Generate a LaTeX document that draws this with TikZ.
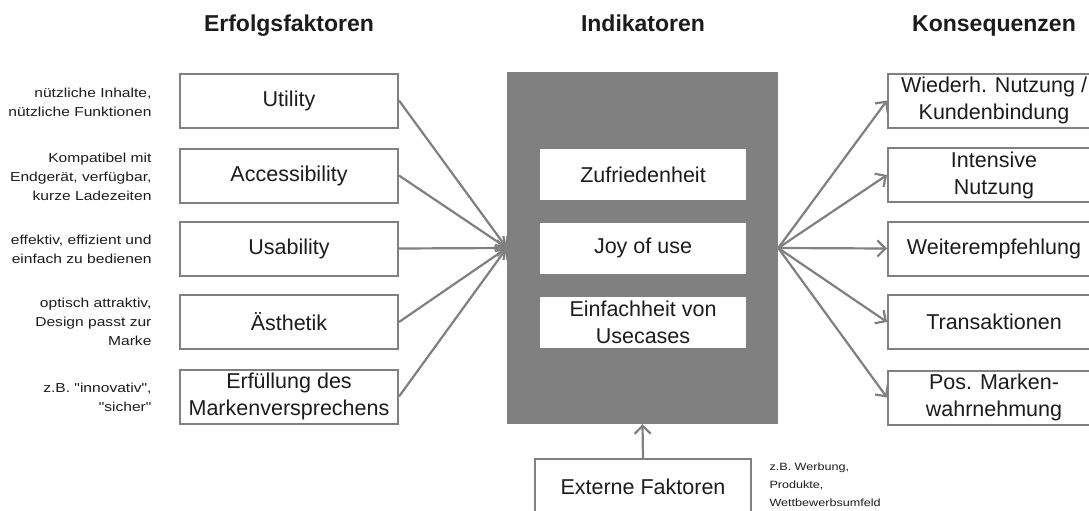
\documentclass[tikz,border=0pt]{standalone}
\usepackage{fontspec}
\setmainfont{Liberation Sans}
\newfontfamily\notefont[FakeStretch=1.2]{Liberation Sans}
\usetikzlibrary{arrows.meta}
\definecolor{linegray}{RGB}{128,128,128}
\definecolor{txt}{RGB}{28,28,28}
\begin{document}
\begin{tikzpicture}[x=1pt,y=-1pt,
  box/.style={draw=linegray,line width=2pt,fill=white,minimum width=218pt,minimum height=54pt,align=center,inner sep=0pt,text=txt,font=\fontsize{21.5}{27}\selectfont},
  inbox/.style={fill=white,minimum width=206pt,minimum height=51pt,align=center,inner sep=0pt,text=txt,font=\fontsize{21.5}{27}\selectfont},
  note/.style={align=right,anchor=east,text=txt,font=\notefont\fontsize{13}{19}\selectfont},
  head/.style={anchor=base,text=txt,font=\bfseries\fontsize{23}{27}\selectfont},
  pfeil/.style={draw=linegray,line width=2.2pt,-{Straight Barb[length=8pt,width=16pt]}}]
\useasboundingbox (0,0) rectangle (1089,511);

\node[head] (h1) at (289,32) {Erfolgsfaktoren};
\node[head] (h2) at (643,32) {Indikatoren};
\node[head] (h3) at (994,32) {Konsequenzen};

\node[box] (e1) at (289,100.5) {Utility};
\node[box] (e2) at (289,175.5) {Accessibility};
\node[box] (e3) at (289,248.5) {Usability};
\node[box] (e4) at (289,322) {Ästhetik};
\node[box] (e5) at (289,396.5) {Erfüllung des\\Markenversprechens};

\node[note] (n1) at (155,102.5) {nützliche Inhalte,\\nützliche Funktionen};
\node[note] (n2) at (155,176.5) {Kompatibel mit\\Endgerät, verfügbar,\\kurze Ladezeiten};
\node[note] (n3) at (155,249) {effektiv, effizient und\\einfach zu bedienen};
\node[note] (n4) at (155,322) {optisch attraktiv,\\Design passt zur\\Marke};
\node[note] (n5) at (155,397.5) {z.B. "innovativ",\\"sicher"};

\node[fill=linegray,minimum width=271pt,minimum height=352pt] (ind) at (642.5,248) {};
\node[inbox] (i1) at (643,174.5) {Zufriedenheit};
\node[inbox] (i2) at (643,248) {Joy of use};
\node[inbox] (i3) at (643,322) {Einfachheit von\\Usecases};

\node[box,minimum width=212pt] (k1) at (994,100.5) {Wiederh. Nutzung /\\Kundenbindung};
\node[box,minimum width=212pt] (k2) at (994,175) {Intensive\\Nutzung};
\node[box,minimum width=212pt] (k3) at (994,248.5) {Weiterempfehlung};
\node[box,minimum width=212pt] (k4) at (994,322) {Transaktionen};
\node[box,minimum width=212pt] (k5) at (994,397.5) {Pos. Marken-\\wahrnehmung};

\node[box,minimum width=216pt,minimum height=55pt] (ext) at (643,486.5) {Externe Faktoren};
\node[note,anchor=west,align=left,font=\notefont\fontsize{10.5}{18}\selectfont] (n6) at (766,485) {z.B. Werbung,\\Produkte,\\Wettbewerbsumfeld};

\draw[pfeil] (e1.east) -- (ind.west);
\draw[pfeil] (e2.east) -- (ind.west);
\draw[pfeil] (e3.east) -- (ind.west);
\draw[pfeil] (e4.east) -- (ind.west);
\draw[pfeil] (e5.east) -- (ind.west);

\draw[pfeil] (ind.east) -- (k1.west);
\draw[pfeil] (ind.east) -- (k2.west);
\draw[pfeil] (ind.east) -- (k3.west);
\draw[pfeil] (ind.east) -- (k4.west);
\draw[pfeil] (ind.east) -- (k5.west);

\draw[pfeil] (ext.north) -- (ind.south);
\end{tikzpicture}
\end{document}
